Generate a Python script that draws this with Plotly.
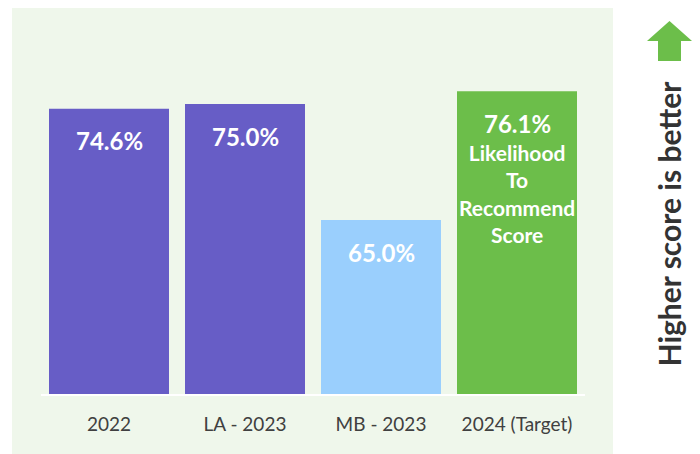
import plotly.graph_objects as go

# ---- data ----
categories = ["2022", "LA - 2023", "MB - 2023", "2024 (Target)"]
scores = [74.6, 75.0, 65.0, 76.1]
bar_colors = ["#675DC6", "#675DC6", "#9ACFFD", "#6CBE4A"]
value_labels = ["74.6%", "75.0%", "65.0%", "76.1%"]
target_note = "Likelihood<br>To<br>Recommend<br>Score"
side_note = "Higher score is better"

positions = list(range(len(categories)))

# page body adds an 8px offset; layout below is given in screen pixels
OFF = 8
W, H = 700 - OFF, 454 - OFF
L, R, T, B = 41 - OFF, 700 - 585, 46 - OFF, 454 - 394
PW, PH = W - L - R, H - T - B


def px(x):
    return (x - OFF - L) / PW


def py(y):
    return (H - B - (y - OFF)) / PH


FONT = "Lato, 'Open Sans', sans-serif"

fig = go.Figure()
fig.add_trace(go.Bar(
    x=positions, y=scores, width=120 / 136,
    marker=dict(color=bar_colors, line=dict(width=0)),
    hoverinfo="skip", showlegend=False,
))

annotations = []
for p, v, t in zip(positions, scores, value_labels):
    annotations.append(dict(
        x=p, y=v, xref="x", yref="y", text=t, showarrow=False,
        yanchor="middle", yshift=-32,
        font=dict(family=FONT, size=24, color="white", weight="bold"),
    ))
annotations.append(dict(
    x=positions[3], y=scores[3], xref="x", yref="y", text=target_note,
    showarrow=False, yanchor="top", yshift=-47,
    font=dict(family=FONT, size=21, color="white", weight="bold"),
))
annotations.append(dict(
    x=px(669), y=py(223.5), xref="paper", yref="paper", text=side_note,
    showarrow=False, textangle=-90, xanchor="center", yanchor="middle",
    font=dict(family=FONT, size=30, color="#333333", weight="bold"),
))

shapes = [
    dict(type="rect", xref="paper", yref="paper", layer="below",
         x0=px(12), x1=px(613), y0=py(470), y1=py(6),
         fillcolor="#EFF7EB", line=dict(width=0)),
    dict(type="path", xref="paper", yref="paper", layer="above",
         path=(f"M {px(647)} {py(41)} L {px(669.5)} {py(21)} L {px(692)} {py(41)} "
               f"L {px(681)} {py(41)} L {px(681)} {py(61)} L {px(658)} {py(61)} "
               f"L {px(658)} {py(41)} Z"),
         fillcolor="#6CBE4A", line=dict(width=0)),
]

fig.update_layout(
    width=W, height=H,
    margin=dict(l=L, r=R, t=T, b=B, autoexpand=False),
    paper_bgcolor="white", plot_bgcolor="#EFF7EB",
    font=dict(family=FONT),
    annotations=annotations, shapes=shapes,
    xaxis=dict(range=[-0.5, len(categories) - 0.5], tickmode="array",
               tickvals=positions, ticktext=categories,
               showgrid=False, showline=True, linecolor="white",
               linewidth=2, ticks="", ticklabelstandoff=12, zeroline=False,
               automargin=False,
               tickfont=dict(family=FONT, size=19, color="#404040")),
    yaxis=dict(range=[50, 80], visible=False, showgrid=False, zeroline=False,
               automargin=False),
)

fig.write_html("out.html")
